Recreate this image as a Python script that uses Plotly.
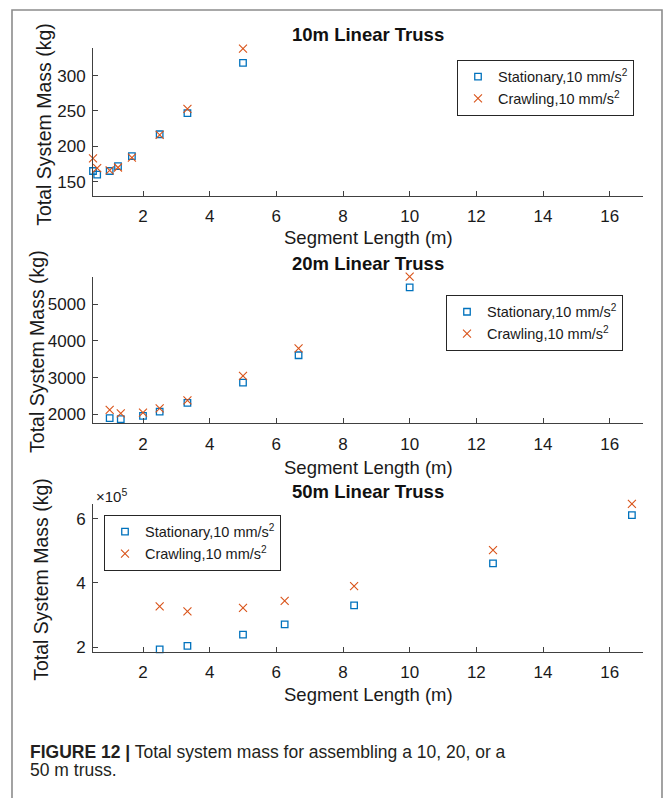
import plotly.graph_objects as go

# ---------------- data ----------------
x10 = [0.5, 0.625, 1.0, 1.25, 1.667, 2.5, 3.333, 5.0]
stat10 = [165, 160, 165, 172, 186, 217, 247, 318]
crawl10 = [183, 169, 166, 170, 184, 216, 253, 338]

x20 = [1.0, 1.333, 2.0, 2.5, 3.333, 5.0, 6.667, 10.0]
stat20 = [1890, 1865, 1955, 2070, 2310, 2860, 3610, 5465]
crawl20 = [2115, 2025, 2045, 2160, 2375, 3045, 3800, 5757]

x50 = [2.5, 3.333, 5.0, 6.25, 8.333, 12.5, 16.667]
stat50 = [193000, 204000, 239000, 271000, 330000, 461000, 611000]
crawl50 = [327000, 311000, 322000, 344000, 390000, 502000, 646000]

titles = ["10m Linear Truss", "20m Linear Truss", "50m Linear Truss"]
x_ticks = [2, 4, 6, 8, 10, 12, 14, 16]
y1_ticks = [150, 200, 250, 300]
y2_ticks = [2000, 3000, 4000, 5000]
y3_ticks = [200000, 400000, 600000]
y3_ticktext = ["2", "4", "6"]
stat_name = "Stationary,10 mm/s<sup>2</sup>"
crawl_name = "Crawling,10 mm/s<sup>2</sup>"
caption1 = "<b>FIGURE 12 |</b> Total system mass for assembling a 10, 20, or a"
caption2 = "50 m truss."

# ---------------- style ----------------
W, H = 665, 798
FONT = "Liberation Sans, Arial, Helvetica, sans-serif"
BLUE = "#0072BD"
RED = "#D95319"
AX = "#404040"

def py(px):
    return 1 - px / H

def pxx(px):
    return px / W

# panel pixel boxes (top, bottom)
panels = [(48.3, 197.0), (278.3, 426.0), (507.0, 656.0)]
xl, xr = 93.0, 643.0

fig = go.Figure()

series = [(x10, stat10, crawl10), (x20, stat20, crawl20), (x50, stat50, crawl50)]
for i, (xs, s, c) in enumerate(series):
    sfx = "" if i == 0 else str(i + 1)
    leg = "legend" if i == 0 else f"legend{i+1}"
    fig.add_trace(go.Scatter(
        x=xs, y=s, mode="markers", name=stat_name,
        xaxis="x" + sfx, yaxis="y" + sfx, legend=leg, cliponaxis=False,
        marker=dict(symbol="square-open", size=6.5, color=BLUE, line=dict(width=1.3, color=BLUE))))
    fig.add_trace(go.Scatter(
        x=xs, y=c, mode="markers", name=crawl_name,
        xaxis="x" + sfx, yaxis="y" + sfx, legend=leg, cliponaxis=False,
        marker=dict(symbol="x-thin-open", size=8, color=RED, line=dict(width=1.1, color=RED))))

axis_common = dict(showline=True, linecolor=AX, linewidth=1, mirror=False,
                   ticks="inside", ticklen=5, tickcolor=AX, tickwidth=1,
                   showgrid=False, zeroline=False,
                   tickfont=dict(family=FONT, size=17, color="#1a1a1a"))

yranges = [[130, 339], [1750, 5760], [185000, 646500]]
yticks = [(y1_ticks, [str(v) for v in y1_ticks]), (y2_ticks, [str(v) for v in y2_ticks]), (y3_ticks, y3_ticktext)]

layout = dict(width=W, height=H, margin=dict(l=0, r=0, t=0, b=0),
              paper_bgcolor="white", plot_bgcolor="white", showlegend=True)

for i, (top, bot) in enumerate(panels):
    sfx = "" if i == 0 else str(i + 1)
    layout["xaxis" + sfx] = dict(axis_common, domain=[pxx(xl), pxx(xr)], range=[0.5, 17],
                                 tickvals=x_ticks, anchor="y" + sfx, ticklabelstandoff=5)
    layout["yaxis" + sfx] = dict(axis_common, domain=[py(bot), py(top)], range=yranges[i],
                                 tickvals=yticks[i][0], ticktext=yticks[i][1], anchor="x" + sfx,
                                 ticklabelstandoff=3)

leg_style = dict(bgcolor="white", bordercolor="#262626", borderwidth=1,
                 font=dict(family=FONT, size=14.5, color="#1a1a1a"),
                 xanchor="left", yanchor="top", itemwidth=30, tracegroupgap=0)
layout["legend"] = dict(leg_style, x=pxx(457), y=py(60))
layout["legend2"] = dict(leg_style, x=pxx(446), y=py(296.7))
layout["legend3"] = dict(leg_style, x=pxx(104), y=py(518))

fig.update_layout(**layout)

ann = []
title_y = [35, 265, 494.3]
xtitle_y = [239, 470, 699]
ytitle_x = [44, 37, 41]
for i, (top, bot) in enumerate(panels):
    ann.append(dict(text=f"<b>{titles[i]}</b>", x=pxx((xl + xr) / 2), y=py(title_y[i]),
                    xref="paper", yref="paper", showarrow=False, xanchor="center", yanchor="middle",
                    font=dict(family=FONT, size=18.5, color="#111111")))
    ann.append(dict(text="Segment Length (m)", x=pxx((xl + xr) / 2), y=py(xtitle_y[i]),
                    xref="paper", yref="paper", showarrow=False, xanchor="center", yanchor="middle",
                    font=dict(family=FONT, size=18.5, color="#1a1a1a")))
    ann.append(dict(text="Total System Mass (kg)", x=pxx(ytitle_x[i]), y=py((top + bot) / 2 + 2),
                    xref="paper", yref="paper", showarrow=False, xanchor="center", yanchor="middle",
                    textangle=-90, font=dict(family=FONT, size=19.5, color="#1a1a1a")))

ann.append(dict(text="\u00d710<sup>5</sup>", x=pxx(94), y=py(499), xref="paper", yref="paper",
                showarrow=False, xanchor="left", yanchor="middle",
                font=dict(family=FONT, size=15, color="#1a1a1a")))
ann.append(dict(text=caption1, x=pxx(28), y=py(757), xref="paper", yref="paper",
                showarrow=False, xanchor="left", yanchor="middle",
                font=dict(family=FONT, size=17.5, color="#231f20")))
ann.append(dict(text=caption2, x=pxx(28), y=py(775), xref="paper", yref="paper",
                showarrow=False, xanchor="left", yanchor="middle",
                font=dict(family=FONT, size=17.5, color="#231f20")))
fig.update_layout(annotations=ann)

# outer frame
fig.add_shape(type="rect", xref="paper", yref="paper",
              x0=pxx(12), x1=pxx(662), y0=py(815), y1=py(10),
              line=dict(color="#8c8c8c", width=1.6), fillcolor="rgba(0,0,0,0)", layer="below")

fig.write_html("out.html")
